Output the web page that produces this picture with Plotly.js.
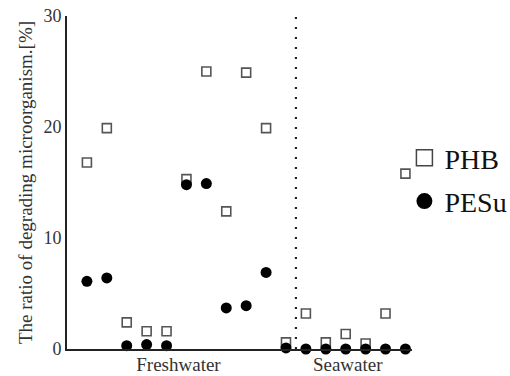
<!DOCTYPE html>
<html>
<head>
<meta charset="utf-8">
<script src="https://cdn.plot.ly/plotly-3.0.1.min.js"></script>
<style>html,body{margin:0;padding:0;background:#fff;}#chart{width:510px;height:376px;}</style>
</head>
<body>
<div id="chart"></div>
<script>
// Sample positions (1-11 freshwater, 12-17 seawater)
const samples = [1,2,3,4,5,6,7,8,9,10,11,12,13,14,15,16,17];
const phb  = [16.8,19.9,2.4,1.6,1.6,15.3,25.0,12.4,24.9,19.9,0.6, 3.2,0.6,1.35,0.5,3.2,15.8];
const pesu = [6.1,6.4,0.3,0.4,0.3,14.8,14.9,3.7,3.9,6.9,0.1, 0,0,0,0,0,0];
const seriesNames = ["PHB", "PESu"];
const groupTickPos = [5.6, 14.1];
const groupLabels = ["Freshwater", "Seawater"];
const dividerPos = 11.5;
const yTicks = [0,10,20,30];

const serif = "Liberation Serif";
const phbMarker = {symbol: "square-open", size: 9, color: "#555", line: {width: 1.6, color: "#555"}};
const pesuMarker = {symbol: "circle", size: 11, color: "#000"};

const traces = [
  {x: samples, y: phb, name: seriesNames[0], type: "scatter", mode: "markers", cliponaxis: false,
   showlegend: false, marker: phbMarker},
  {x: samples, y: pesu, name: seriesNames[1], type: "scatter", mode: "markers", cliponaxis: false,
   showlegend: false, marker: pesuMarker},
  // legend entries (larger symbols, as in the reference key)
  {x: [null], y: [null], name: seriesNames[0], type: "scatter", mode: "markers", legendgroup: "a",
   marker: {symbol: "square-open", size: 16, color: "#444", line: {width: 1.5, color: "#444"}}},
  {x: [null], y: [null], name: seriesNames[1], type: "scatter", mode: "markers", legendgroup: "b",
   marker: {symbol: "circle", size: 16, color: "#000"}}
];

const layout = {
  width: 510, height: 376,
  margin: {l: 67, r: 98, t: 16, b: 27, autoexpand: false},
  paper_bgcolor: "#fff", plot_bgcolor: "#fff",
  font: {family: serif, color: "#333"},
  showlegend: true,
  legend: {x: 0.978, y: 0.509, xanchor: "left", yanchor: "middle",
           font: {family: serif, size: 28, color: "#111"},
           traceorder: "grouped", tracegroupgap: 4, bgcolor: "rgba(0,0,0,0)"},
  xaxis: {range: [0, 17.33], showgrid: false, zeroline: false, showline: true,
          linecolor: "#222", linewidth: 2, ticks: "",
          tickmode: "array", tickvals: groupTickPos, ticktext: groupLabels,
          ticklabelstandoff: -3,
          tickfont: {family: serif, size: 19, color: "#333"}, fixedrange: true},
  yaxis: {range: [0, 30], showgrid: false, zeroline: false, showline: true,
          linecolor: "#222", linewidth: 2, ticks: "",
          tickmode: "array", tickvals: yTicks,
          tickfont: {family: serif, size: 18, color: "#333"},
          title: {text: "The ratio of degrading microorganism.[%]", standoff: 6,
                  font: {family: serif, size: 19, color: "#333"}}, fixedrange: true},
  shapes: [{type: "line", xref: "x", yref: "y", x0: dividerPos, x1: dividerPos, y0: 0, y1: 30,
            line: {color: "#222", width: 2.2, dash: "2px,8px"}}]
};

Plotly.newPlot("chart", traces, layout, {displayModeBar: false, staticPlot: true});
</script>
</body>
</html>
